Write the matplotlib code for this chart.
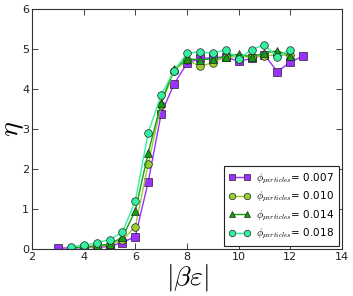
import matplotlib
matplotlib.use("Agg")
import matplotlib.pyplot as plt

plt.rcParams['mathtext.fontset'] = 'cm'

x_007 = [3, 4, 4.5, 5, 5.5, 6, 6.5, 7, 7.5, 8, 8.5, 9, 9.5, 10, 10.5, 11, 11.5, 12, 12.5]
y_007 = [0.02, 0.03, 0.04, 0.06, 0.16, 0.31, 1.68, 3.38, 4.12, 4.64, 4.76, 4.78, 4.80, 4.69, 4.76, 4.85, 4.43, 4.67, 4.82]

x_rest = [3.5, 4, 4.5, 5, 5.5, 6, 6.5, 7, 7.5, 8, 8.5, 9, 9.5, 10, 10.5, 11, 11.5, 12]
y_010 = [0.03, 0.04, 0.06, 0.10, 0.22, 0.56, 2.12, 3.60, 4.45, 4.72, 4.57, 4.65, 4.80, 4.80, 4.80, 4.83, 4.85, 4.84]
y_014 = [0.03, 0.05, 0.08, 0.12, 0.29, 0.96, 2.41, 3.65, 4.50, 4.75, 4.73, 4.75, 4.80, 4.87, 4.80, 4.90, 4.95, 4.83]
y_018 = [0.06, 0.09, 0.15, 0.23, 0.42, 1.20, 2.91, 3.85, 4.45, 4.89, 4.92, 4.89, 4.98, 4.75, 4.98, 5.10, 4.80, 4.98]

labels = [r'$\phi_{particles}$= 0.007', r'$\phi_{particles}$= 0.010',
          r'$\phi_{particles}$= 0.014', r'$\phi_{particles}$= 0.018']
colors = ['#9b30ff', '#9acd32', '#10a010', '#33f0a0']
markers = ['s', 'o', '^', 'o']

fig = plt.figure(figsize=(3.53, 2.96), dpi=100)
ax = fig.add_axes([0.0907, 0.159, 0.878, 0.811])

series = [(x_007, y_007), (x_rest, y_010), (x_rest, y_014), (x_rest, y_018)]
for (xs, ys), lab, c, m in zip(series, labels, colors, markers):
    ax.plot(xs, ys, color=c, marker=m, markersize=5.5, markeredgecolor='#222222',
            markeredgewidth=0.5, markerfacecolor=c, linewidth=1.0, label=lab)

ax.set_xlim(2, 14)
ax.set_ylim(0, 6)
ax.set_xticks([2, 4, 6, 8, 10, 12, 14])
ax.set_yticks([0, 1, 2, 3, 4, 5, 6])
ax.tick_params(direction='in', top=True, right=True, labelsize=8, length=4, width=0.6, pad=2, colors='#222222')
for s in ax.spines.values():
    s.set_color('#2a3439')
    s.set_linewidth(0.8)

ax.set_xlabel(r'$|\beta\varepsilon|$', fontsize=20, labelpad=0)
ax.set_ylabel(r'$\eta$', fontsize=20)
ax.yaxis.set_label_coords(-0.02, 0.5)

leg = ax.legend(loc='lower right', numpoints=2, fontsize=7.5, frameon=True, fancybox=False,
                framealpha=1, edgecolor='#222222', borderpad=0.45, labelspacing=0.4,
                handlelength=2.0, handletextpad=0.6, borderaxespad=0.3, markerscale=0.85)
leg.get_frame().set_linewidth(0.8)

fig.savefig('out.png', dpi=100)
